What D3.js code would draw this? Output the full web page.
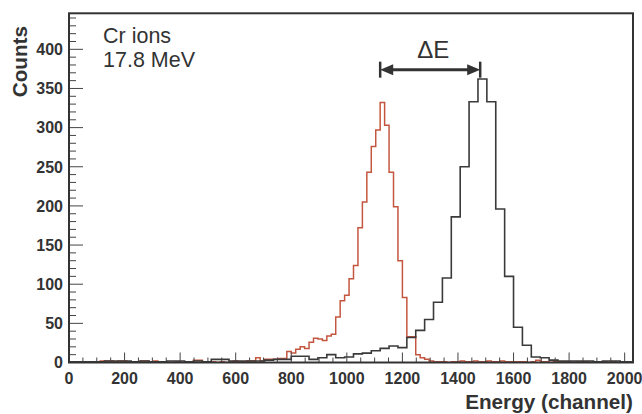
<!DOCTYPE html>
<html>
<head>
<meta charset="utf-8">
<script src="https://cdn.jsdelivr.net/npm/d3@7"></script>
<style>
  body { margin: 0; background: #fff; }
  text { font-family: "Liberation Sans", Arial, sans-serif; fill: #333; }
</style>
</head>
<body>
<script>
// black histogram: 64 bins of 32 channels (0..2048)
var blackWidth = 32;
var blackCounts = [
  1, 1, 1, 1, 2, 2, 2, 1, 2, 1, 1, 2, 2, 1, 2, 1,
  4, 4, 2, 2, 2, 2, 3, 4, 4, 8, 8, 4, 6, 10, 6, 7,
  11, 12, 15, 18, 21, 19, 32, 41, 55, 77, 108, 186, 250, 333, 362, 333,
  196, 110, 45, 22, 7, 6, 3, 2, 2, 2, 2, 1, 2, 2, 1, 1
];

// red histogram: 128 bins of 16 channels
var redWidth = 16;
var redCounts = [
  0, 0, 0, 0, 0, 0, 1, 2, 2, 2, 1, 2, 2, 1, 0, 1,
  2, 2, 1, 2, 0, 1, 0, 0, 1, 0, 1, 0, 3, 3, 1, 0,
  1, 0, 1, 0, 1, 2, 1, 1, 2, 2, 6, 2, 4, 4, 4, 5,
  5, 14, 12, 17, 20, 18, 26, 31, 30, 28, 34, 36, 58, 79, 86, 107,
  124, 172, 205, 243, 276, 297, 332, 303, 243, 199, 130, 83, 33, 33, 10, 6,
  4, 2, 1, 1, 1, 0, 1, 1, 2, 1, 1, 2, 1, 1, 2, 1,
  1, 2, 1, 1, 1, 1, 1, 0, 1, 3, 1, 1, 0, 1, 1, 1,
  1, 0, 1, 1, 1, 0, 1, 0, 1, 0, 1, 0, 1, 0, 1, 1
];

var xTicks = [0, 200, 400, 600, 800, 1000, 1200, 1400, 1600, 1800, 2000];
var yTicks = [0, 50, 100, 150, 200, 250, 300, 350, 400];

// delta E arrow between the two peaks (channel, count)
var arrowFrom = 1120, arrowTo = 1480, arrowCount = 374;

var W = 642, H = 414;
var pLeft = 69, pRight = 633, pTop = 13.3, pBottom = 362.5;

var svg = d3.select("body").append("svg")
    .attr("width", W)
    .attr("height", H);

var x = d3.scaleLinear().domain([0, 2030]).range([pLeft, pRight]);
var y = d3.scaleLinear().domain([0, 446]).range([pBottom, pTop]);

svg.append("defs").append("clipPath").attr("id", "clip")
  .append("rect")
    .attr("x", pLeft).attr("y", pTop)
    .attr("width", pRight - pLeft).attr("height", pBottom - pTop);

function stepPoints(counts, w) {
  var pts = [];
  counts.forEach(function(c, i) {
    pts.push([i * w, c]);
    pts.push([(i + 1) * w, c]);
  });
  return pts;
}

var line = d3.line()
    .x(function(d) { return x(d[0]); })
    .y(function(d) { return y(d[1]); });

var plot = svg.append("g").attr("clip-path", "url(#clip)");

plot.append("path")
    .attr("d", line(stepPoints(redCounts, redWidth)))
    .attr("fill", "none")
    .attr("stroke", "#c4563f")
    .attr("stroke-width", 1.5);

plot.append("path")
    .attr("d", line(stepPoints(blackCounts, blackWidth)))
    .attr("fill", "none")
    .attr("stroke", "#3a3a3a")
    .attr("stroke-width", 1.6);

// ticks (inward, ROOT style)
var xMinor = d3.range(0, 2030, 50);
svg.selectAll(".xminor").data(xMinor).enter().append("line")
    .attr("x1", function(d) { return x(d); }).attr("x2", function(d) { return x(d); })
    .attr("y1", pBottom).attr("y2", function(d) { return d % 200 === 0 ? pBottom - 10 : pBottom - 5; })
    .attr("stroke", "#444").attr("stroke-width", 1);

var yMinor = d3.range(0, 446, 10);
svg.selectAll(".yminor").data(yMinor).enter().append("line")
    .attr("y1", function(d) { return y(d); }).attr("y2", function(d) { return y(d); })
    .attr("x1", pLeft).attr("x2", function(d) { return d % 50 === 0 ? pLeft + 14 : pLeft + 7; })
    .attr("stroke", "#444").attr("stroke-width", 1);

// frame
svg.append("rect")
    .attr("x", pLeft).attr("y", pTop)
    .attr("width", pRight - pLeft).attr("height", pBottom - pTop)
    .attr("fill", "none")
    .attr("stroke", "#333")
    .attr("stroke-width", 2);

// tick labels
svg.selectAll(".xlab").data(xTicks).enter().append("text")
    .attr("x", function(d) { return x(d); })
    .attr("y", 384)
    .attr("text-anchor", "middle")
    .attr("font-size", "16px")
    .attr("font-weight", "bold")
    .text(function(d) { return d; });

svg.selectAll(".ylab").data(yTicks).enter().append("text")
    .attr("x", 63)
    .attr("y", function(d) { return y(d); })
    .attr("dy", "0.36em")
    .attr("text-anchor", "end")
    .attr("font-size", "16px")
    .attr("font-weight", "bold")
    .text(function(d) { return d; });

// axis titles
svg.append("text")
    .attr("x", pRight).attr("y", 409)
    .attr("text-anchor", "end")
    .attr("font-size", "20.7px")
    .attr("font-weight", "bold")
    .text("Energy (channel)");

svg.append("text")
    .attr("transform", "translate(27,26) rotate(-90)")
    .attr("text-anchor", "end")
    .attr("font-size", "20.7px")
    .attr("font-weight", "bold")
    .text("Counts");

// annotation
svg.append("text").attr("x", 103).attr("y", 43).attr("font-size", "21.5px").text("Cr ions");
svg.append("text").attr("x", 103).attr("y", 66.5).attr("font-size", "21.5px").text("17.8 MeV");

var ax0 = x(arrowFrom), ax1 = x(arrowTo), ay = y(arrowCount);
var arrow = svg.append("g").attr("fill", "#333").attr("stroke", "#333");
arrow.append("line")
    .attr("x1", ax0 + 8).attr("x2", ax1 - 8)
    .attr("y1", ay).attr("y2", ay)
    .attr("stroke-width", 3);
arrow.append("line").attr("x1", ax0).attr("x2", ax0).attr("y1", ay - 8).attr("y2", ay + 8).attr("stroke-width", 2.5);
arrow.append("line").attr("x1", ax1).attr("x2", ax1).attr("y1", ay - 8).attr("y2", ay + 8).attr("stroke-width", 2.5);
arrow.append("path")
    .attr("d", "M" + ax0 + "," + ay + "L" + (ax0 + 13) + "," + (ay - 5.5) + "L" + (ax0 + 13) + "," + (ay + 5.5) + "Z")
    .attr("stroke", "none");
arrow.append("path")
    .attr("d", "M" + ax1 + "," + ay + "L" + (ax1 - 13) + "," + (ay - 5.5) + "L" + (ax1 - 13) + "," + (ay + 5.5) + "Z")
    .attr("stroke", "none");

svg.append("text")
    .attr("x", (ax0 + ax1) / 2 + 3).attr("y", 58)
    .attr("text-anchor", "middle")
    .attr("font-size", "24px")
    .text("ΔE");
</script>
</body>
</html>
